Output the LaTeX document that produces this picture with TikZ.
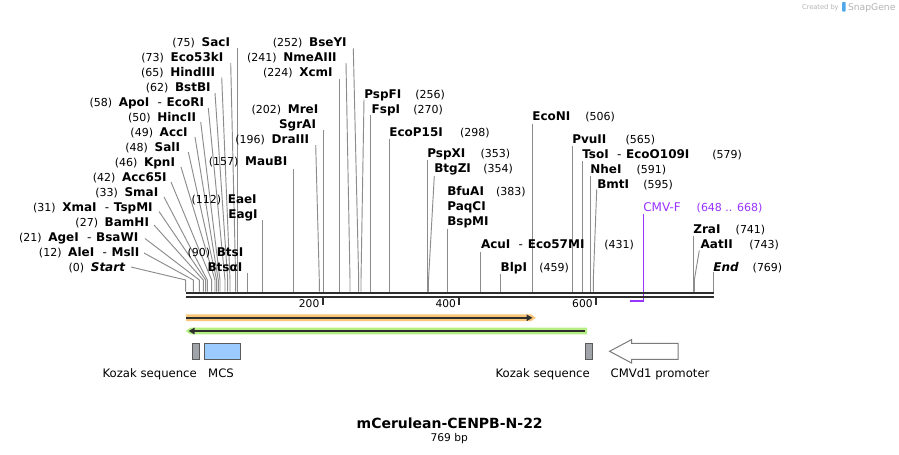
\documentclass[tikz,border=0pt]{standalone}
\usepackage{fontspec}
\setmainfont{DejaVu Sans}
\usetikzlibrary{arrows.meta}
\definecolor{leadgray}{HTML}{8C8C8C}
\definecolor{mapdark}{HTML}{2E2E2E}
\definecolor{primer}{HTML}{9933FF}
\definecolor{orangeglow}{HTML}{F9C77A}
\definecolor{greenglow}{HTML}{B6EE84}
\definecolor{kozakfill}{HTML}{A0A4A9}
\definecolor{mcsblue}{HTML}{9CCBFF}
\definecolor{boxedge}{HTML}{5A5A5A}
\definecolor{promedge}{HTML}{7A7A7A}
\definecolor{sgray}{HTML}{B4B4B4}
\definecolor{sgblue}{HTML}{4FA8E8}
\newcommand\dsh{\hspace{6.2pt}{\mdseries-}\hspace{3.6pt}}
\newcommand\mkleader[4]{%
  \path (#2,#3) coordinate (t#1) (#4,280) coordinate (k#1) (#4,291.5) coordinate (m#1);
  \draw[leader] (t#1) -- (k#1) -- (m#1);}
\newcommand\mkvleader[3]{%
  \path (#3,#2) coordinate (t#1) (#3,291.5) coordinate (m#1);
  \draw[leader] (t#1) -- (m#1);}
\newcommand\Lsite[5]{%
  \node[enz,anchor=base east] (n#1) at (#2,#3) {#4};
  \node[num,anchor=base east] (p#1) at ([xshift=-5pt]n#1.base west) {#5};}
\newcommand\Lname[4]{\node[enz,anchor=base east] (n#1) at (#2,#3) {#4};}
\newcommand\Rsite[6]{%
  \node[enz,anchor=base west] (n#1) at (#2,#3) {#4};
  \node[num,anchor=base west] (p#1) at (#5,#3) {#6};}
\newcommand\Rname[4]{\node[enz,anchor=base west] (n#1) at (#2,#3) {#4};}
\begin{document}
\begin{tikzpicture}[x=0.75pt,y=-0.75pt,
  every node/.style={inner sep=0pt,outer sep=0pt},
  enz/.style={font=\fontsize{9}{10}\selectfont\bfseries},
  num/.style={font=\fontsize{8.25}{10}\selectfont},
  leader/.style={draw=leadgray,line width=0.7pt},
  featlab/.style={font=\fontsize{8.75}{10}\selectfont},
  ticklab/.style={font=\fontsize{8}{10}\selectfont,anchor=base east},
  tickmark/.style={draw=mapdark,line width=1.5pt},
  darkarrow/.style={draw=mapdark,line width=1.5pt}]
\useasboundingbox (0,0) rectangle (899,454);
\fill[white] (0,0) rectangle (899,454);

% ---- leaders: left cluster
\mkvleader{75}{48}{237.3}
\mkleader{73}{230.7}{63.3}{235.7}
\mkleader{65}{221.7}{77.5}{230}
\mkleader{62}{215}{93}{227.7}
\mkleader{58}{208.3}{108}{225}
\mkleader{50}{200.7}{122}{220}
\mkleader{49}{195}{137}{218.3}
\mkleader{48}{188.3}{152}{216.7}
\mkleader{46}{181}{167}{215}
\mkleader{42}{171}{182}{211.7}
\mkleader{33}{164}{197}{207.3}
\mkleader{31}{159}{211.5}{205.7}
\mkleader{27}{154}{225}{203.3}
\mkleader{21}{145}{238.5}{199.3}
\mkleader{12}{144}{253}{193.3}
\mkleader{0}{131}{267}{185.7}
% ---- leaders: middle and right
\mkleader{252}{353.3}{48.5}{358.7}
\mkleader{241}{346}{63}{350}
\mkvleader{224}{78.5}{339.3}
\mkvleader{202}{130}{323.3}
\mkleader{196}{315.7}{145}{319.3}
\mkvleader{157}{168.5}{293.3}
\mkvleader{112}{220}{262.5}
\mkvleader{90}{272.5}{247.7}
\mkleader{256}{364}{99.5}{361}
\mkvleader{270}{115}{370.7}
\mkvleader{298}{138.5}{389.3}
\mkvleader{353}{160}{427.5}
\mkleader{354}{434.3}{176}{428.5}
\mkvleader{383}{228.5}{447.3}
\mkvleader{431}{251.5}{480.7}
\mkvleader{459}{273.5}{500.7}
\mkvleader{506}{123.5}{532.3}
\mkvleader{565}{145.5}{572.3}
\mkvleader{579}{161}{582.3}
\mkvleader{591}{175.5}{590.3}
\mkleader{595}{596.7}{189.5}{593.3}
\mkvleader{741}{235.5}{693.3}
\mkleader{743}{699.3}{250.5}{694.3}
\mkvleader{769}{272}{713.3}

% ---- primer CMV-F
\path (643.3,213.5) coordinate (cmvtop) (643.3,300.8) coordinate (cmvbot) (629.5,300.8) coordinate (cmvstart);
\draw[primer,line width=0.75pt] (cmvtop) -- (cmvbot);
\draw[primer,line width=1.5pt] (cmvstart) -- ([xshift=0.5pt]cmvbot);

% ---- map
\path (185.5,292.8) coordinate (mapL1) (713.8,292.8) coordinate (mapR1)
      (185.5,296.7) coordinate (mapL2) (713.8,296.7) coordinate (mapR2);
\draw[mapdark,line width=1.7pt] (mapL1) -- (mapR1);
\draw[mapdark,line width=1.5pt] (mapL2) -- (mapR2);
\foreach \tx/\tl in {322.5/200,459.2/400,595.8/600}{
  \draw[tickmark] (\tx,298) -- (\tx,305);
  \node[ticklab] (tl\tl) at (\tx-3.2,307.5) {\tl};
}

% ---- features
\fill[orangeglow] (186,314.4) -- (531,314.4) -- (535.8,317.8) -- (531,321.2) -- (186,321.2) -- cycle;
\path (186,317.8) coordinate (orL) (532.5,317.8) coordinate (orR);
\draw[darkarrow,-{Triangle[length=4.5pt,width=4.8pt]}] (orL) -- (orR);
\fill[greenglow] (190.5,327.6) -- (587,327.6) -- (587,334.4) -- (190.5,334.4) -- (185.7,331) -- cycle;
\path (585.3,331) coordinate (grR) (188.6,331) coordinate (grL);
\draw[darkarrow,-{Triangle[length=4.5pt,width=4.8pt]}] (grR) -- (grL);

\draw[boxedge,fill=kozakfill,line width=0.75pt] (192.4,343.3) rectangle (199.6,359.3);
\draw[boxedge,fill=mcsblue,line width=0.75pt] (204.2,343.3) rectangle (240.6,359.3);
\draw[boxedge,fill=kozakfill,line width=0.75pt] (585.3,343.3) rectangle (592.4,359.3);
\draw[promedge,fill=white,line width=0.75pt] (678.1,343.3) -- (631.7,343.3) -- (631.7,339.5)
   -- (609.6,351.3) -- (631.7,363.1) -- (631.7,359.3) -- (678.1,359.3) -- cycle;

\node[featlab,anchor=base east] (fk1) at (196.8,377.3) {Kozak sequence};
\node[featlab,anchor=base west] (fmcs) at (208.2,377.3) {MCS};
\node[featlab,anchor=base east] (fk2) at (589.8,377.3) {Kozak sequence};
\node[featlab,anchor=base west] (fcmv) at (610.6,377.3) {CMVd1 promoter};

% ---- labels left column
\Lsite{75}{230}{46}{SacI}{(75)}
\Lsite{73}{223.3}{61}{Eco53kI}{(73)}
\Lsite{65}{215}{76}{HindIII}{(65)}
\Lsite{62}{210.7}{91}{BstBI}{(62)}
\Lsite{58}{204}{106}{ApoI\dsh EcoRI}{(58)}
\Lsite{50}{196}{121}{HincII}{(50)}
\Lsite{49}{187.7}{136}{AccI}{(49)}
\Lsite{48}{180}{151}{SalI}{(48)}
\Lsite{46}{175}{166}{KpnI}{(46)}
\Lsite{42}{166.7}{181}{Acc65I}{(42)}
\Lsite{33}{158.3}{196}{SmaI}{(33)}
\Lsite{31}{152.7}{211}{XmaI\dsh TspMI}{(31)}
\Lsite{27}{149}{226}{BamHI}{(27)}
\Lsite{21}{138.3}{241}{AgeI\dsh BsaWI}{(21)}
\Lsite{12}{139.3}{256}{AleI\dsh MslI}{(12)}
\Lsite{0}{125}{271}{\itshape Start}{(0)}
% ---- labels middle (left type)
\Lsite{252}{346.7}{46}{BseYI}{(252)}
\Lsite{241}{336.7}{61}{NmeAIII}{(241)}
\Lsite{224}{332.7}{76}{XcmI}{(224)}
\Lsite{202}{318.3}{113.3}{MreI}{(202)}
\Lname{202b}{316}{128.3}{SgrAI}
\Lsite{196}{309}{143.3}{DraIII}{(196)}
\Lsite{157}{287.3}{165.7}{MauBI}{(157)}
\Lsite{112}{256.7}{203.3}{EaeI}{(112)}
\Lname{112b}{257.7}{218.3}{EagI}
\Lsite{90}{243.3}{256}{BtsI}{(90)}
\Lname{90b}{242.3}{271}{BtsαI}
% ---- labels right type
\Rsite{256}{364.3}{98.3}{PspFI}{415.3}{(256)}
\Rsite{270}{371.7}{113.3}{FspI}{413.3}{(270)}
\Rsite{298}{389.3}{136}{EcoP15I}{460}{(298)}
\Rsite{353}{427.3}{157.5}{PspXI}{480.7}{(353)}
\Rsite{354}{434.3}{172.5}{BtgZI}{483.3}{(354)}
\Rsite{383}{447.3}{195}{BfuAI}{496}{(383)}
\Rname{383b}{447.3}{210}{PaqCI}
\Rname{383c}{447.3}{225}{BspMI}
\Rsite{431}{481}{248.3}{AcuI\dsh Eco57MI}{604.3}{(431)}
\Rsite{459}{500.7}{271.3}{BlpI}{539.3}{(459)}
\Rsite{506}{532.3}{120.7}{EcoNI}{585.3}{(506)}
\Rsite{565}{572.3}{143.3}{PvuII}{625.7}{(565)}
\Rsite{579}{582.3}{158.3}{TsoI\dsh EcoO109I}{712.3}{(579)}
\Rsite{591}{590.3}{173.3}{NheI}{636.7}{(591)}
\Rsite{595}{597.3}{188.3}{BmtI}{643.3}{(595)}
\node[font=\fontsize{9}{10}\selectfont,text=primer,anchor=base west] (ncmvf) at (643.3,211.7) {CMV-F};
\node[num,text=primer,anchor=base west] (pcmvf) at (696.7,211.7) {(648 .. 668)};
\Rsite{741}{693.3}{233.3}{ZraI}{735.7}{(741)}
\Rsite{743}{700.7}{248.3}{AatII}{749.3}{(743)}
\Rsite{769}{713.3}{271.3}{\itshape End}{752.7}{(769)}

% ---- title
\node[font=\fontsize{10.5}{12}\selectfont\bfseries,anchor=base] (title) at (449.7,428.3) {mCerulean-CENPB-N-22};
\node[font=\fontsize{8}{10}\selectfont,anchor=base] (bp) at (449.2,441.7) {769 bp};

% ---- watermark
\node[font=\fontsize{5}{6}\selectfont,text=sgray,anchor=base west] (cby) at (802,9.5) {Created by};
\fill[sgblue,rounded corners=0.6pt] (842,2) rectangle (845.6,11.5);
\node[font=\fontsize{6.9}{8}\selectfont,text=sgray,anchor=base west] (sgn) at (848,10) {SnapGene};
\end{tikzpicture}
\end{document}
